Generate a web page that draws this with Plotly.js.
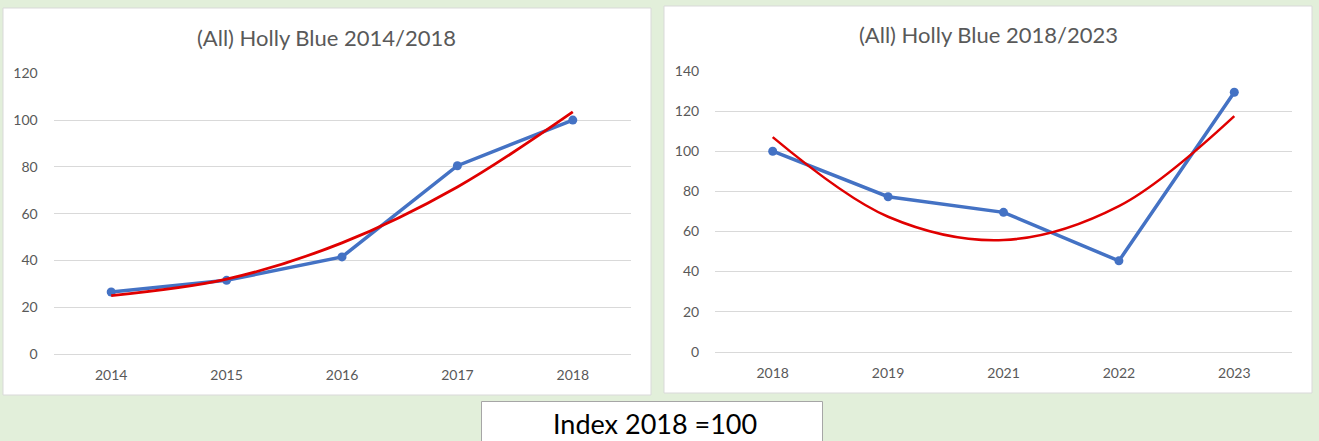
<!DOCTYPE html>
<html>
<head>
<meta charset="utf-8">
<script src="https://cdn.plot.ly/plotly-3.0.1.min.js"></script>
<style>
html,body{margin:0;padding:0;background:#E2EFDA;}
#chart{width:1319px;height:441px;}
</style>
</head>
<body>
<div id="chart"></div>
<script>
// Left chart: 2014/2018
const yearsA = ['2014', '2015', '2016', '2017', '2018'];
const indexA = [26.5, 31.5, 41.5, 80.5, 100];
const trendA = [25, 32, 47.5, 71.4, 103.5];

// Right chart: 2018/2023
const yearsB = ['2018', '2019', '2021', '2022', '2023'];
const indexB = [100, 77.3, 69.5, 45.3, 129.4];
const trendB = [107, 67.3, 55.7, 72.6, 117.5];

const titleA = '(All) Holly Blue 2014/2018';
const titleB = '(All) Holly Blue 2018/2023';
const footnote = 'Index 2018 =100';

const W = 1319, H = 441;
const px = v => v / W;
const py = v => 1 - v / H;

const FONT = 'Lato, Carlito, "Open Sans", sans-serif';
const GREY = '#595959';
const BLUE = '#4472C4';
const RED = '#E00000';

const traces = [
  {x: yearsA, y: indexA, xaxis: 'x', yaxis: 'y', type: 'scatter', mode: 'lines+markers',
   line: {color: BLUE, width: 3.5}, marker: {color: BLUE, size: 9}, hoverinfo: 'x+y'},
  {x: yearsA, y: trendA, xaxis: 'x', yaxis: 'y', type: 'scatter', mode: 'lines',
   line: {color: RED, width: 2.8, shape: 'spline', smoothing: 1}, hoverinfo: 'skip'},
  {x: yearsB, y: indexB, xaxis: 'x2', yaxis: 'y2', type: 'scatter', mode: 'lines+markers',
   line: {color: BLUE, width: 3.5}, marker: {color: BLUE, size: 9}, hoverinfo: 'x+y'},
  {x: yearsB, y: trendB, xaxis: 'x2', yaxis: 'y2', type: 'scatter', mode: 'lines',
   line: {color: RED, width: 2.5, shape: 'spline', smoothing: 1}, hoverinfo: 'skip'}
];

const tickfont = {family: FONT, size: 14, color: GREY};
function xax(domain, cats) {
  return {domain: domain, type: 'category', categoryarray: cats, range: [-0.5, 4.5],
    showgrid: false, showline: true, linecolor: '#D9D9D9', linewidth: 1, zeroline: false,
    ticks: 'outside', ticklen: 8, tickcolor: 'rgba(0,0,0,0)', tickfont: tickfont, fixedrange: true};
}
function yax(domain, max, anchor) {
  return {domain: domain, range: [0, max], dtick: 20, tick0: 0, showgrid: true,
    gridcolor: '#D9D9D9', gridwidth: 1, zeroline: false, showline: false,
    ticks: 'outside', ticklen: 12, tickcolor: 'rgba(0,0,0,0)', tickfont: tickfont,
    anchor: anchor, fixedrange: true};
}

const layout = {
  width: W, height: H,
  margin: {l: 0, r: 0, t: 0, b: 0, pad: 0},
  paper_bgcolor: '#E2EFDA',
  plot_bgcolor: 'rgba(0,0,0,0)',
  showlegend: false,
  xaxis: Object.assign(xax([px(53.5), px(630.5)], yearsA), {anchor: 'y'}),
  yaxis: yax([py(354), py(73.3)], 120, 'x'),
  xaxis2: Object.assign(xax([px(715), px(1292)], yearsB), {anchor: 'y2'}),
  yaxis2: yax([py(351.7), py(71)], 140, 'x2'),
  shapes: [
    {type: 'rect', xref: 'paper', yref: 'paper', layer: 'below',
     x0: px(3), x1: px(651), y0: py(395), y1: py(8),
     fillcolor: '#FFFFFF', line: {color: '#D9D9D9', width: 1}},
    {type: 'rect', xref: 'paper', yref: 'paper', layer: 'below',
     x0: px(664), x1: px(1312), y0: py(393), y1: py(6),
     fillcolor: '#FFFFFF', line: {color: '#D9D9D9', width: 1}},
    {type: 'rect', xref: 'paper', yref: 'paper', layer: 'below',
     x0: px(481.5), x1: px(822.5), y0: py(446), y1: py(401.5),
     fillcolor: '#FFFFFF', line: {color: '#A6A6A6', width: 1}}
  ],
  annotations: [
    {text: titleA, xref: 'paper', yref: 'paper', x: px(326), y: py(37),
     xanchor: 'center', yanchor: 'middle', showarrow: false,
     font: {family: FONT, size: 22, color: GREY}},
    {text: titleB, xref: 'paper', yref: 'paper', x: px(988), y: py(34),
     xanchor: 'center', yanchor: 'middle', showarrow: false,
     font: {family: FONT, size: 22, color: GREY}},
    {text: footnote, xref: 'paper', yref: 'paper', x: px(655), y: py(423.5),
     xanchor: 'center', yanchor: 'middle', showarrow: false,
     font: {family: FONT, size: 27, color: '#000000'}}
  ]
};

Plotly.newPlot('chart', traces, layout, {displayModeBar: false, staticPlot: true});
</script>
</body>
</html>
